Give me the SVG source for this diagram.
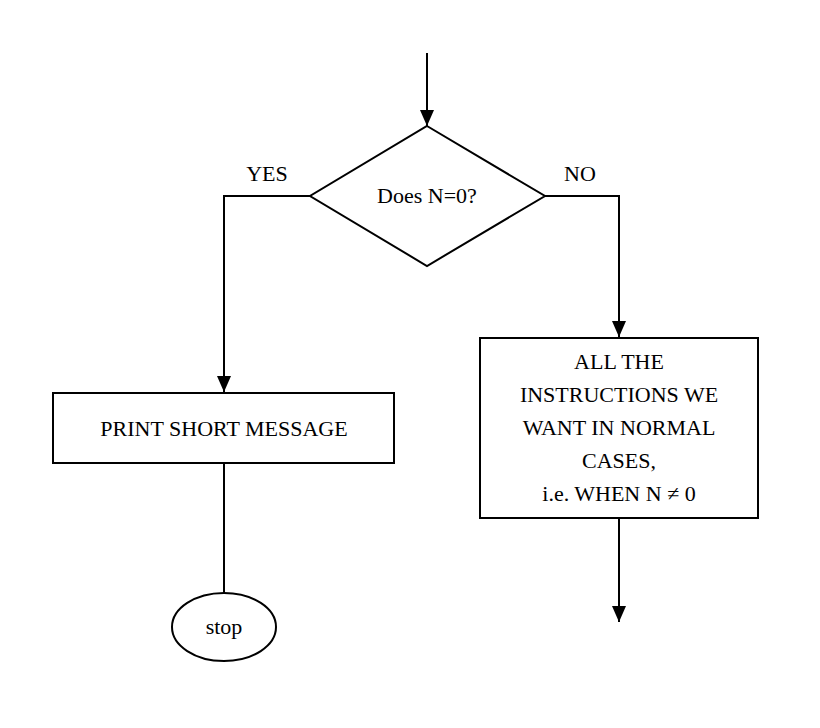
<svg xmlns="http://www.w3.org/2000/svg" width="820" height="728" viewBox="0 0 820 728">
<style>
.s{fill:none;stroke:#000;stroke-width:2}
.n{fill:#fff;stroke:#000;stroke-width:2}
text{font-family:"Liberation Serif","Times New Roman",serif;font-size:22px;fill:#000;text-anchor:middle}
</style>
<defs><marker id="a" markerWidth="16" markerHeight="20" refX="16" refY="7" orient="auto" markerUnits="userSpaceOnUse"><path d="M0,0 L16,7 L0,14 Z" fill="#000"/></marker></defs>
<rect width="820" height="728" fill="#fff"/>
<g id="connectors">
<line class="s" x1="427" y1="53" x2="427" y2="126" marker-end="url(#a)"/>
<polyline class="s" points="310,196 224,196 224,392" marker-end="url(#a)"/>
<polyline class="s" points="545,196 619,196 619,337" marker-end="url(#a)"/>
<line class="s" x1="224" y1="463" x2="224" y2="593"/>
<line class="s" x1="619" y1="518" x2="619" y2="622" marker-end="url(#a)"/>
<text x="267" y="181">YES</text>
<text x="580" y="181">NO</text>
</g>
<g id="decision"><polygon class="n" points="427,126 545,196 427,266 310,196"/><text x="427" y="203">Does N=0?</text></g>
<g id="print"><rect class="n" x="53" y="393" width="341" height="70"/><text x="224" y="436">PRINT SHORT MESSAGE</text></g>
<g id="stop"><ellipse class="n" cx="224" cy="627" rx="52" ry="34"/><text x="224" y="634">stop</text></g>
<g id="normal"><rect class="n" x="480" y="338" width="278" height="180"/>
<text x="619" y="369">ALL THE</text><text x="619" y="402">INSTRUCTIONS WE</text><text x="619" y="435">WANT IN NORMAL</text><text x="619" y="468">CASES,</text><text x="619" y="501">i.e. WHEN N ≠ 0</text></g>
</svg>
